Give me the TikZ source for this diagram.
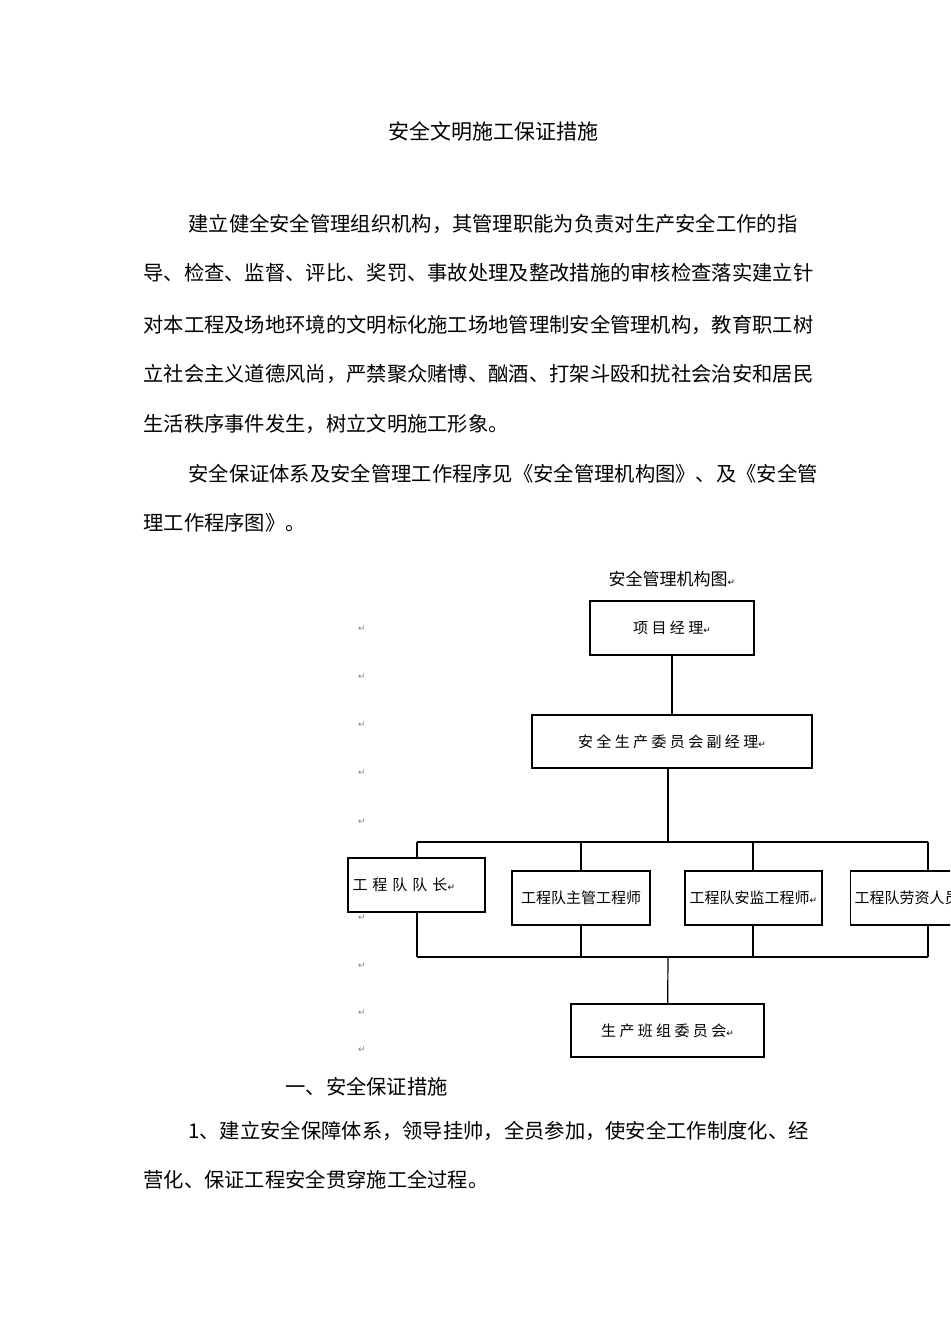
\documentclass[tikz,border=0pt]{standalone}
\usepackage{fontspec}
\usetikzlibrary{backgrounds}
\newfontfamily\cjk{Noto Sans CJK SC}
\newfontfamily\dv{DejaVu Sans}
\newcommand{\pmk}{{\dv\fontsize{4.5}{5}\selectfont ↵}}
\begin{document}
\begin{tikzpicture}[x=0.5pt,y=-0.5pt,
  body/.style={anchor=west,inner sep=0pt,font=\cjk\fontsize{10.15}{12}\selectfont},
  bx/.style={draw,fill=white,line width=0.6pt,inner sep=0pt,font=\cjk\fontsize{7.5}{10}\selectfont},
  ln/.style={line width=0.6pt},
  pm/.style={font=\dv\fontsize{4.5}{5}\selectfont,text=gray,inner sep=0pt}]
\clip (0,0) rectangle (950,1344);
\useasboundingbox (0,0) rectangle (950,1344);
\node[inner sep=0pt,font=\cjk\fontsize{10.5}{12}\selectfont] (title) at (493,131) {安全文明施工保证措施};
\node[body] (l1) at (188,224) {建立健全安全管理组织机构，其管理职能为负责对生产安全工作的指};
\node[body] (l2) at (143,273) {导、检查、监督、评比、奖罚、事故处理及整改措施的审核检查落实建立针};
\node[body] (l3) at (143,325) {对本工程及场地环境的文明标化施工场地管理制安全管理机构，教育职工树};
\node[body] (l4) at (143,374) {立社会主义道德风尚，严禁聚众赌博、酗酒、打架斗殴和扰社会治安和居民};
\node[body] (l5) at (143,424) {生活秩序事件发生，树立文明施工形象。};
\node[body] (l6) at (188,474) {安全保证体系及安全管理工作程序见《安全管理机构图》、及《安全管};
\node[body] (l7) at (143,523) {理工作程序图》。};
\node[body] (l8) at (285,1087) {一、安全保证措施};
\node[body] (l9) at (188,1131) {1、建立安全保障体系，领导挂帅，全员参加，使安全工作制度化、经};
\node[body] (l10) at (143,1180) {营化、保证工程安全贯穿施工全过程。};
% chart
\node[inner sep=0pt,font=\cjk\fontsize{8.5}{10}\selectfont] (ct) at (672,579) {安全管理机构图\pmk};
\node[bx,minimum width=82pt,minimum height=27pt] (b1) at (672,628) {项 目 经 理\pmk};
\node[bx,minimum width=140pt,minimum height=26.5pt] (b2) at (672,741.5) {安 全 生 产 委 员 会 副 经 理\pmk};
\node[bx,minimum width=68.5pt,minimum height=27pt,text width=64pt,align=left] (c1) at (416.5,885) {工 程 队 队 长\pmk};
\node[bx,minimum width=69pt,minimum height=27pt] (c2) at (581,898) {工程队主管工程师};
\node[bx,minimum width=68.5pt,minimum height=27pt] (c3) at (753.5,898) {工程队安监工程师\pmk};
\node[bx,minimum width=60pt,minimum height=27pt,anchor=west,align=left,text width=56pt] (c4) at (850,898) {工程队劳资人员};
\node[bx,minimum width=96.5pt,minimum height=26.5pt] (b3) at (667.5,1030.5) {生 产 班 组 委 员 会\pmk};
\coordinate (t1) at (417,842); \coordinate (t2) at (581,842); \coordinate (t3) at (753,842); \coordinate (t4) at (928,842);
\coordinate (u1) at (417,957); \coordinate (u2) at (581,957); \coordinate (u3) at (753,957); \coordinate (u4) at (928,957);
\coordinate (m1) at (668,768); \coordinate (m2) at (668,842); \coordinate (m3) at (668,957);
\begin{scope}[on background layer]
\draw[ln] (b1) -- (b2);
\draw[ln] (m1) -- (m2);
\draw[ln] (t1) -- (t4);
\draw[ln] (u1) -- (u4);
\draw[ln] (t1) -- (u1);
\draw[ln] (t2) -- (u2);
\draw[ln] (t3) -- (u3);
\draw[ln] (t4) -- (u4);
\draw[ln] (m3) -- (b3);
\end{scope}
\foreach \y [count=\i] in {629,677,725,773,822,918,966,1013,1050}
  \node[pm] (p\i) at (362,\y) {↵};
\end{tikzpicture}
\end{document}
